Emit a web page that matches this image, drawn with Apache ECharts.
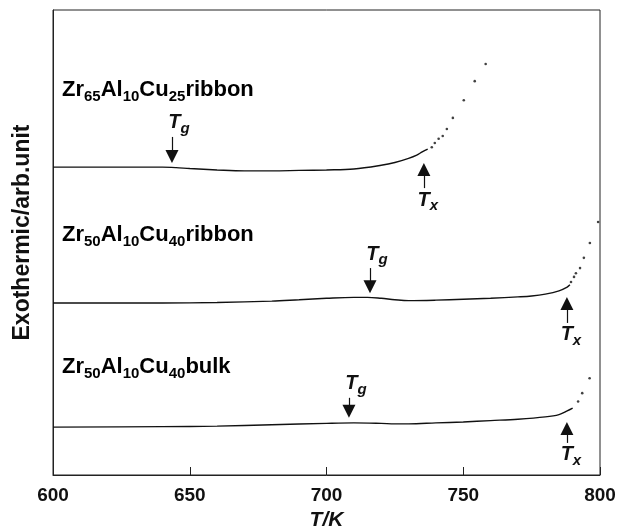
<!DOCTYPE html>
<html>
<head>
<meta charset="utf-8">
<script src="https://cdn.jsdelivr.net/npm/echarts@6/dist/echarts.min.js"></script>
<style>
html, body { margin: 0; padding: 0; background: #fff; }
#main { width: 624px; height: 532px; }
</style>
</head>
<body>
<div id="main"></div>
<script>
// Zr65Al10Cu25 ribbon: solid trace and sparse points after crystallisation onset
const tempA = [600, 620, 640, 645, 650, 660, 670, 680, 690, 700, 710, 720, 725, 730, 733, 735, 737]
const heatA = [66.2, 66.2, 66.2, 66.1, 65.9, 65.6, 65.4, 65.4, 65.5, 65.6, 65.8, 66.6, 67.2, 68.1, 68.8, 69.5, 70.1]
const tempADots = [738.5, 739.6, 741, 742.5, 744, 746.2, 750.2, 754.2, 758.2]
const heatADots = [70.5, 71.4, 72.3, 72.9, 74.4, 76.8, 80.6, 84.7, 88.4]

// Zr50Al10Cu40 ribbon
const tempB = [600, 620, 640, 660, 680, 690, 700, 710, 715, 720, 725, 730, 740, 750, 760, 770, 775, 780, 785, 788, 789]
const heatB = [37.0, 37.0, 37.0, 37.1, 37.4, 37.7, 38.0, 38.2, 38.2, 38.0, 37.7, 37.5, 37.6, 37.8, 38.0, 38.3, 38.5, 38.9, 39.6, 40.4, 40.9]
const tempBDots = [789.4, 790.5, 791.2, 792.7, 794.1, 796.3, 799.3]
const heatBDots = [41.5, 42.6, 43.4, 44.5, 46.7, 49.9, 54.4]

// Zr50Al10Cu40 bulk
const tempC = [600, 640, 660, 680, 700, 710, 720, 725, 730, 740, 750, 760, 770, 780, 785, 788, 790]
const heatC = [10.3, 10.4, 10.5, 10.8, 11.1, 11.2, 11.1, 11.0, 11.0, 11.2, 11.4, 11.7, 12.0, 12.5, 13.0, 13.8, 14.4]
const tempCDots = [792.0, 793.5, 796.2]
const heatCDots = [15.8, 17.6, 20.8]

// glass transition / crystallisation markers: [T, arrow tip, arrow tail]
const tgMarks = [[643.5, 67.1, 72.7], [715.9, 39.1, 44.5], [708.2, 12.3, 16.6]]
const txMarks = [[735.6, 67.1, 61.7], [787.9, 38.3, 32.7], [787.9, 11.4, 6.9]]

const xTicks = [600, 650, 700, 750, 800]

const FONT = '"Liberation Sans", Arial, Helvetica, sans-serif'
const INK = '#111'

const subRich = {
  t: { fontSize: 20, fontWeight: 'bold', fontStyle: 'italic', fontFamily: FONT, color: INK, lineHeight: 22, verticalAlign: 'top' },
  s: { fontSize: 15, fontWeight: 'bold', fontStyle: 'italic', fontFamily: FONT, color: INK, lineHeight: 15, padding: [10, 0, 0, 0] }
}
const nameRich = {
  m: { fontSize: 22, fontWeight: 'bold', fontFamily: FONT, color: INK, lineHeight: 24, verticalAlign: 'top' },
  s: { fontSize: 15, fontWeight: 'bold', fontFamily: FONT, color: INK, lineHeight: 15, padding: [12, 0, 0, 0] }
}

function pairs(xs, ys) {
  return xs.map((x, i) => [x, ys[i]])
}

function arrows(i) {
  const tg = tgMarks[i]
  const tx = txMarks[i]
  // tip coordinate pulled back by half the triangle so the point lands on the tip
  return [
    [
      { coord: [tg[0], tg[2]], label: { formatter: '{t|T}{s|g}', position: 'start', distance: 2, padding: [0, 0, 0, 14] } },
      { coord: [tg[0], tg[1] + 1.4] }
    ],
    [
      { coord: [tx[0], tx[2]], label: { formatter: '{t|T}{s|x}', position: 'start', distance: 2, padding: [0, 0, 0, 8] } },
      { coord: [tx[0], tx[1] - 1.4] }
    ]
  ]
}

function curve(xs, ys, i) {
  return {
    type: 'line',
    data: pairs(xs, ys),
    showSymbol: false,
    smooth: 0.35,
    lineStyle: { color: INK, width: 1.4 },
    markLine: {
      silent: true,
      symbol: ['none', 'triangle'],
      symbolSize: 13,
      lineStyle: { color: INK, width: 1.2, type: 'solid' },
      itemStyle: { color: INK },
      label: { show: true, rich: subRich, color: INK },
      data: arrows(i)
    }
  }
}

function dots(xs, ys) {
  return {
    type: 'scatter',
    data: pairs(xs, ys),
    symbolSize: 2.6,
    itemStyle: { color: INK }
  }
}

const myChart = echarts.init(document.getElementById('main'))
myChart.setOption({
  animation: false,
  backgroundColor: '#fff',
  grid: { left: 53, right: 24, top: 10, bottom: 57, outerBoundsMode: 'none', show: true, borderColor: '#222', borderWidth: 1 },
  xAxis: {
    type: 'value',
    min: xTicks[0],
    max: xTicks[xTicks.length - 1],
    interval: 50,
    axisLine: { lineStyle: { color: '#222', width: 1 } },
    axisTick: { inside: true, length: 8, lineStyle: { color: '#222' } },
    axisLabel: { color: INK, fontSize: 19, fontWeight: 'bold', fontFamily: FONT, margin: 11 },
    splitLine: { show: false },
    name: 'T/K',
    nameLocation: 'middle',
    nameGap: 35,
    nameTextStyle: { color: INK, fontSize: 21, fontWeight: 'bold', fontStyle: 'italic', fontFamily: FONT }
  },
  yAxis: {
    type: 'value',
    min: 0,
    max: 100,
    axisLine: { show: true, lineStyle: { color: '#222', width: 1 } },
    axisTick: { show: false },
    axisLabel: { show: false },
    splitLine: { show: false },
    name: 'Exothermic/arb.unit',
    nameLocation: 'middle',
    nameGap: 19,
    nameTextStyle: { color: INK, fontSize: 23, fontWeight: 'bold', fontFamily: FONT, padding: [0, 0, 0, 20] }
  },
  graphic: [
    { type: 'text', left: 62, top: 77, style: { text: '{m|Zr}{s|65}{m|Al}{s|10}{m|Cu}{s|25}{m|ribbon}', rich: nameRich } },
    { type: 'text', left: 62, top: 222, style: { text: '{m|Zr}{s|50}{m|Al}{s|10}{m|Cu}{s|40}{m|ribbon}', rich: nameRich } },
    { type: 'text', left: 62, top: 354, style: { text: '{m|Zr}{s|50}{m|Al}{s|10}{m|Cu}{s|40}{m|bulk}', rich: nameRich } }
  ],
  series: [
    curve(tempA, heatA, 0),
    dots(tempADots, heatADots),
    curve(tempB, heatB, 1),
    dots(tempBDots, heatBDots),
    curve(tempC, heatC, 2),
    dots(tempCDots, heatCDots)
  ]
})
window.addEventListener('resize', () => { myChart.resize() })
</script>
</body>
</html>
